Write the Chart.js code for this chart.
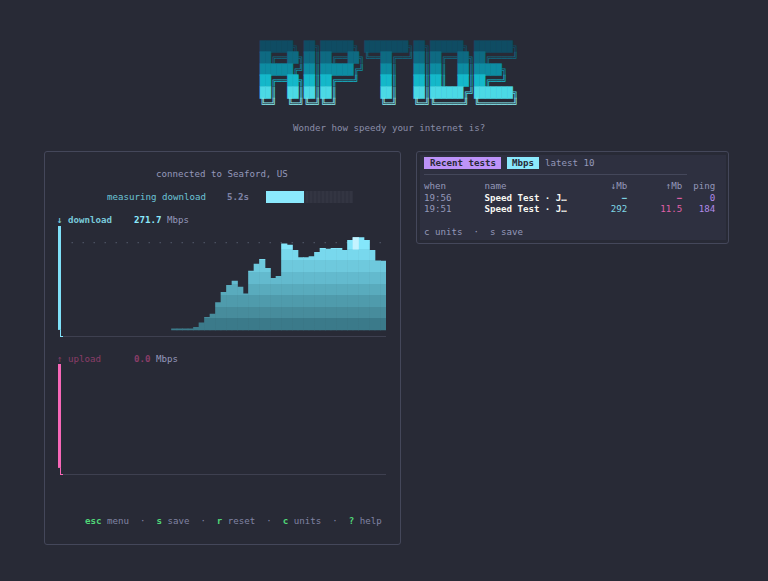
<!DOCTYPE html>
<html><head><meta charset="utf-8">
<script src="https://cdn.jsdelivr.net/npm/chart.js@4/dist/chart.umd.min.js"></script>
<style>
html,body{margin:0;padding:0;width:768px;height:581px;overflow:hidden;background:#282a36}
body{position:relative;font-family:"DejaVu Sans Mono",monospace;font-size:9.13px;line-height:11.5px;color:#9498ba}
.t{position:absolute;white-space:pre}
b{font-weight:700}
.panel{position:absolute;box-sizing:border-box;border:1px solid #44475a;border-radius:3px}
canvas{position:absolute}
#logo{position:absolute;left:260px;top:41px;white-space:pre;font-size:27.39px;line-height:31.88px;transform-origin:0 0;transform:scale(0.3333,0.3607);text-rendering:geometricPrecision}
#logo div{height:31.88px}
#logo i{font-style:normal;-webkit-text-stroke:0.9px currentColor}
.row{position:absolute;left:424px;height:11px;line-height:11px;white-space:pre}
.row span{display:inline-block;height:11px;line-height:11px;vertical-align:top}
</style></head><body>
<div id="logo"></div>
<div class="t" style="left:293px;top:123px;color:#8a8da8">Wonder how speedy your internet is?</div>

<div class="panel" style="left:44px;top:151px;width:357px;height:394px"></div>
<div class="t" style="left:156px;top:169px">connected to Seaford, US</div>
<div class="t" style="left:107px;top:192px;color:#6cc4d6">measuring download</div>
<div class="t" style="left:227px;top:192px;color:#7f83a6;font-weight:700">5.2s</div>
<div style="position:absolute;left:266px;top:191px;width:87px;height:12px;background:repeating-linear-gradient(90deg,#333542 0 2px,#2f313e 2px 4px)"></div>
<div style="position:absolute;left:266px;top:191px;width:38px;height:12px;background:#8be9fd"></div>

<div class="t" style="left:57px;top:215px"><b style="color:#78c9da">↓ download</b></div>
<div class="t" style="left:134px;top:215px"><b style="color:#8be9fd">271.7</b> <span style="color:#9598bb">Mbps</span></div>
<div class="t" style="left:57px;top:354px"><b style="color:#8a3d68;font-weight:400">↑ upload</b></div>
<div class="t" style="left:134px;top:354px"><b style="color:#8a3d68">0.0</b> <span style="color:#9598bb">Mbps</span></div>

<canvas id="down" style="left:55px;top:226px"></canvas>
<canvas id="up" style="left:55px;top:364px"></canvas>

<div class="t" id="foot" style="left:85px;top:516px;color:#8184a4"><b style="color:#50d878">esc</b> menu  ·  <b style="color:#50d878">s</b> save  ·  <b style="color:#50d878">r</b> reset  ·  <b style="color:#50d878">c</b> units  ·  <b style="color:#50d878">?</b> help</div>

<div class="panel" style="left:416px;top:151px;width:313px;height:93px"></div>
<div style="position:absolute;left:420px;top:155px;width:306px;height:85px;background:#2e3040"></div>
<div style="position:absolute;left:424px;top:157px;width:77px;height:12px;background:#bd93f9"></div>
<div style="position:absolute;left:507px;top:157px;width:32px;height:12px;background:#8be9fd"></div>
<div class="t" style="left:430px;top:158px;color:#282a36;font-weight:700">Recent tests</div>
<div class="t" style="left:512px;top:158px;color:#282a36;font-weight:700">Mbps</div>
<div class="t" style="left:545px;top:158px">latest 10</div>
<div style="position:absolute;left:424px;top:174px;width:263px;height:1px;background:#44475a"></div>
<div id="table"></div>
<div class="t" style="left:424px;top:227px">c units  ·  s save</div>

<script>
const categories = ["s01","s02","s03","s04","s05","s06","s07","s08","s09","s10","s11","s12","s13","s14","s15","s16","s17","s18","s19","s20","s21","s22","s23","s24","s25","s26","s27","s28","s29","s30","s31","s32","s33","s34","s35","s36","s37","s38","s39","s40","s41","s42","s43","s44","s45","s46","s47","s48","s49","s50","s51","s52","s53","s54","s55","s56","s57","s58","s59"];
const downloadMbps = [0,0,0,0,0,0,0,0,0,0,0,0,0,0,0,0,0,0,0,0,
  4,4,4,4,10.5,27.6,50,62,108,148,176,193,169,142,232,260,278,243,204,211,340,335,314,285,285,289,306,322,319,322,322,314,353,364,364,353,314,273,272];
const uploadMbps = [0,0,0,0,0,0,0,0,0,0,0,0,0,0,0,0,0,0,0,0,0,0,0,0,0,0,0,0,0,0,0,0,0,0,0,0,0,0,0,0,0,0,0,0,0,0,0,0,0,0,0,0,0,0,0,0,0,0,0];
const peakColumn = "s54";
const peakCellRange = [319,364];
const bandEdges = [0,46,92,137,183,229,274,320,366,420];
const bandColors = ["#3b7a8a","#478c9c","#4f9bac","#59abbd","#63bace","#6ec9dd","#78d8ed","#84e6fb","#84e6fb"];
const guideMbps = 343;
const yMin = -28, yMax = 410;

const logoLines = [
"██████╗ ██╗██████╗ ████████╗██╗██████╗ ███████╗",
"██╔══██╗██║██╔══██╗╚══██╔══╝██║██╔══██╗██╔════╝",
"██████╔╝██║██████╔╝   ██║   ██║██║  ██║█████╗  ",
"██╔══██╗██║██╔═══╝    ██║   ██║██║  ██║██╔══╝  ",
"██║  ██║██║██║        ██║   ██║██████╔╝███████╗",
"╚═╝  ╚═╝╚═╝╚═╝        ╚═╝   ╚═╝╚═════╝ ╚══════╝"];
const logoColors = ["#0f4c63","#0e6a82","#0d8ca2","#14b8ca","#4bd9e5","#8af0f5"];
document.getElementById('logo').innerHTML = logoLines.map((l,i)=>`<div style="color:${logoColors[i]}">${l.replace(/█+/g,m=>`<i>${m}</i>`)}</div>`).join('');

const tableHead = ["when","name","↓Mb","↑Mb","ping"];
const tableRows = [["19:56","Speed Test · J…","−","−","0"],["19:51","Speed Test · J…","292","11.5","184"]];
function row(r,i,head){
  const pad=(s,n)=>s.padEnd(n), lp=(s,n)=>s.padStart(n);
  const c=(s,col,bold)=>`<span style="color:${col}${bold?';font-weight:700':''}">${s}</span>`;
  const top=181+i*11.5;
  const inner = head
    ? c(pad(r[0],11),'#9498ba')+c(pad(r[1],23),'#9498ba')+c(lp(r[2],3),'#9498ba')+c(lp(r[3],10),'#9498ba')+c(lp(r[4],6),'#9498ba')
    : c(pad(r[0],11),'#9498ba')+c(pad(r[1],23),'#f8f8f2',true)+c(lp(r[2],3),'#7fd8e8',r[2]==="−")+c(lp(r[3],10),'#e060a8',r[3]==="−")+c(lp(r[4],6),'#b08ae8');
  return `<div class="row" style="top:${top}px">${inner}</div>`;
}
document.getElementById('table').innerHTML = row(tableHead,0,true)+tableRows.map((r,i)=>row(r,i+1)).join("");

function bandFill(ctx){
  const chart=ctx.chart, y=chart.scales.y;
  if(ctx.raw===0) return 'rgba(0,0,0,0)';
  if(!y) return bandColors[0];
  const top=y.getPixelForValue(yMax), bot=y.getPixelForValue(0);
  if(!Number.isFinite(top)||!Number.isFinite(bot)||bot===top) return bandColors[0];
  const span=bot-top;
  const g=chart.ctx.createLinearGradient(0,bot,0,top);
  bandColors.forEach((col,i)=>{
    const a=(bot-y.getPixelForValue(bandEdges[i]))/span, b=(bot-y.getPixelForValue(bandEdges[i+1]))/span;
    g.addColorStop(Math.min(1,Math.max(0,a)),col);
    g.addColorStop(Math.min(1,Math.max(0,b)),col);
  });
  return g;
}
function axisBar(color){return {id:'axisBar',afterDraw(c){
  const a=c.chartArea,y=c.scales.y,x=a.left,ctx=c.ctx;
  ctx.save();ctx.fillStyle=color;
  ctx.fillRect(x-3.5,a.top,3,y.getPixelForValue(0)-a.top);
  ctx.fillRect(x-1.5,y.getPixelForValue(0),1,a.bottom-y.getPixelForValue(0));
  ctx.fillRect(x-1.5,a.bottom-1,3,1);
  ctx.restore();}};}
function makeChart(id,datasets,barColor,guide){
  return new Chart(document.getElementById(id),{
    type:'bar',
    data:{labels:categories,datasets},
    options:{
      responsive:false,animation:false,events:[],
      layout:{padding:{left:6.5,right:0,top:0,bottom:0}},
      plugins:{legend:{display:false},tooltip:{enabled:false},title:{display:false}},
      scales:{
        x:{offset:true,grid:{display:false,drawTicks:false},ticks:{display:false},border:{display:true,color:'#3e4050',width:1.3}},
        y:{min:yMin,max:yMax,
           afterBuildTicks:s=>{s.ticks=guide?[{value:guide}]:[];},
           ticks:{display:false},
           grid:{color:'#4a5060',lineWidth:1.3,drawTicks:false},
           border:{display:false,dash:[1.5,9.5],dashOffset:-9.5}}
      }
    },
    plugins:[axisBar(barColor)]
  });
}
function sized(id){const c=document.getElementById(id);c.width=331;c.height=111;c.style.width='331px';c.style.height='111px';}
sized('down');sized('up');
makeChart('down',[
  {label:'peak',data:categories.map(k=>k===peakColumn?peakCellRange:null),backgroundColor:'#c4f3ff',borderWidth:0,barPercentage:1,categoryPercentage:1,grouped:false,order:0},
  {label:'download',data:downloadMbps,backgroundColor:bandFill,borderWidth:0,barPercentage:1,categoryPercentage:1,grouped:false,order:1}
],'#7fe0f8',guideMbps);
makeChart('up',[{label:'upload',data:uploadMbps,backgroundColor:c=>c.raw===0?'rgba(0,0,0,0)':'#f767b8',borderWidth:0,barPercentage:1,categoryPercentage:1}],'#f767b8',null);
</script>
</body></html>
